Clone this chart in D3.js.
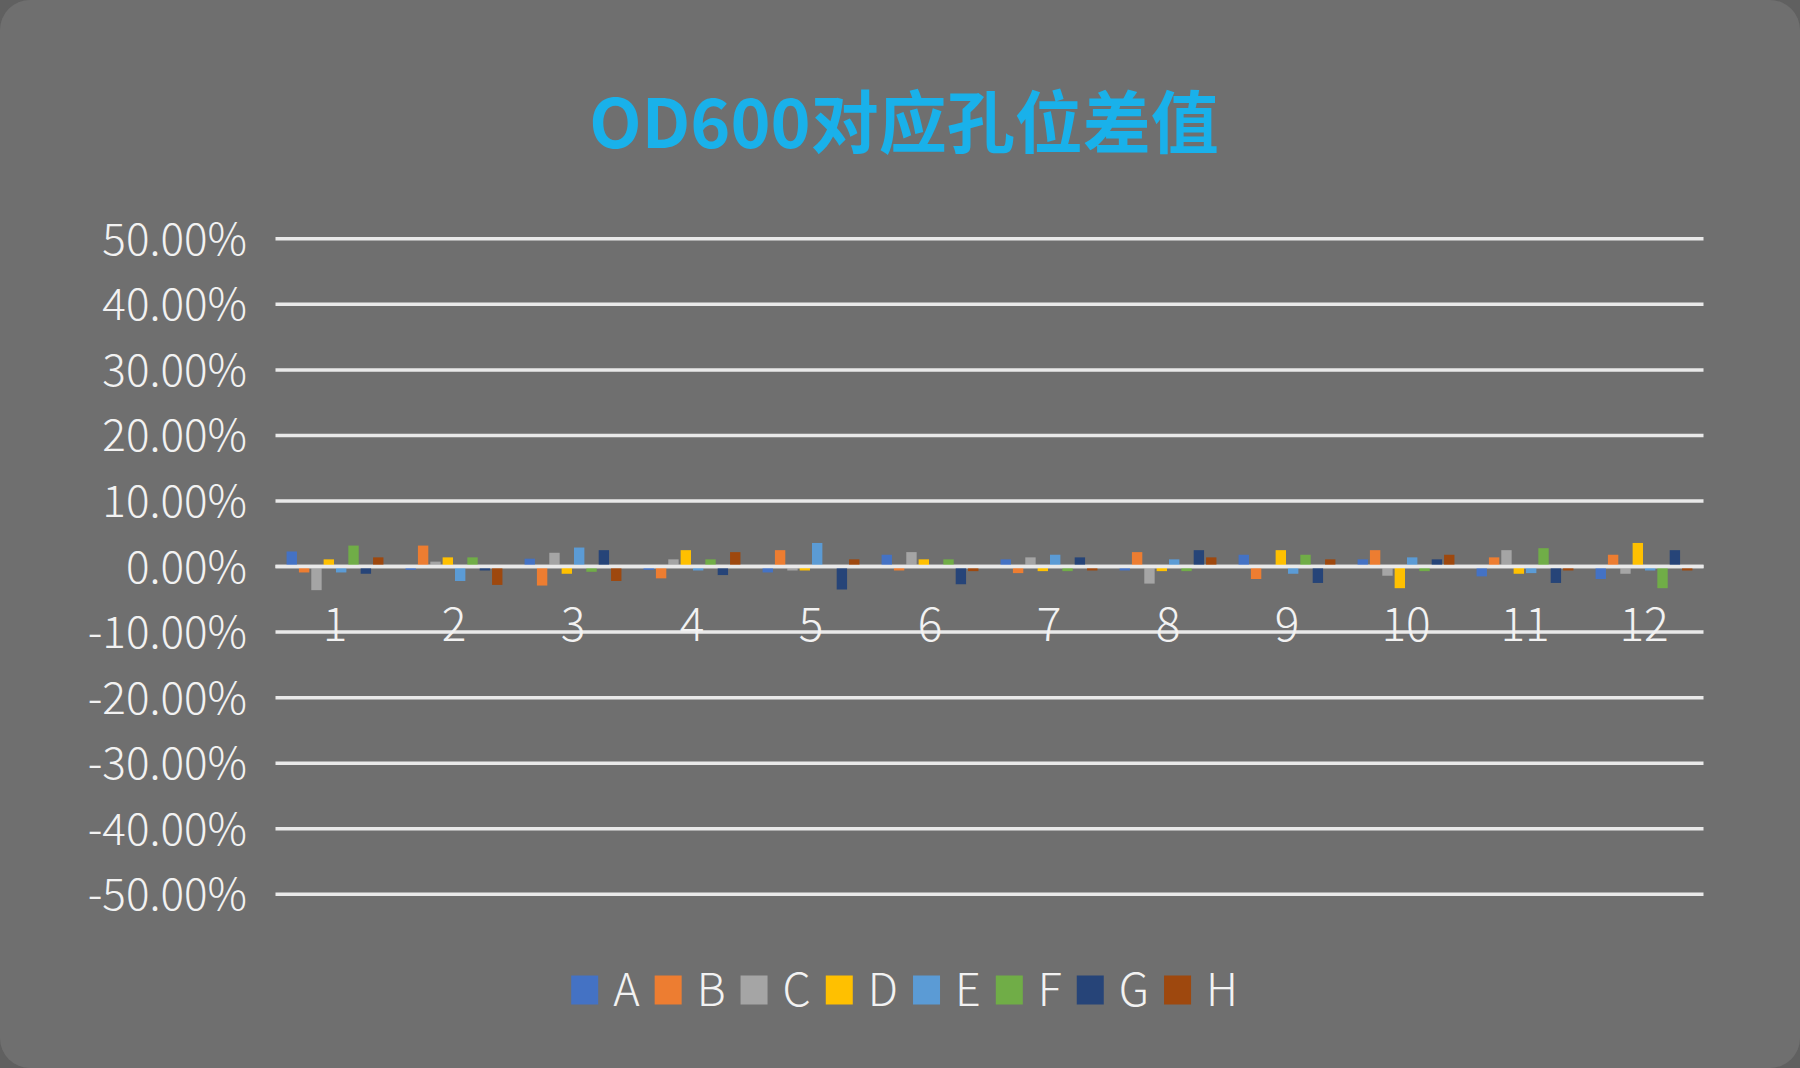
<!DOCTYPE html>
<html>
<head>
<meta charset="utf-8">
<script src="https://cdn.jsdelivr.net/npm/d3@7"></script>
<style>
  html, body { margin: 0; padding: 0; background: #606060; }
  svg { display: block; }
</style>
</head>
<body>
<svg id="chart" width="1800" height="1068"></svg>
<script>
const title = "OD600对应孔位差值";
const categories = ["1","2","3","4","5","6","7","8","9","10","11","12"];
const seriesNames = ["A","B","C","D","E","F","G","H"];
const seriesColors = ["#4472C4","#ED7D31","#A5A5A5","#FFC000","#5B9BD5","#70AD47","#264478","#9E480E"];
// values in percent
const A = [2.3, -0.5, 1.2, -0.5, -0.9, 1.8, 1.1, -0.6, 1.8, 1.1, -1.5, -1.9];
const B = [-0.9, 3.2, -2.9, -1.8, 2.5, -0.6, -1.0, 2.2, -1.9, 2.5, 1.4, 1.8];
const C = [-3.6, 0.75, 2.1, 1.1, -0.6, 2.2, 1.4, -2.6, 0.0, -1.4, 2.5, -1.1];
const D = [1.1, 1.4, -1.1, 2.5, -0.6, 1.1, -0.7, -0.7, 2.5, -3.3, -1.1, 3.6];
const E = [-0.9, -2.2, 2.9, -0.6, 3.6, 0.1, 1.8, 1.1, -1.1, 1.4, -1.0, -0.6];
const F = [3.2, 1.4, -0.8, 1.1, -0.2, 1.1, -0.7, -0.7, 1.8, -0.7, 2.8, -3.3];
const G = [-1.1, -0.6, 2.5, -1.3, -3.5, -2.7, 1.4, 2.5, -2.5, 1.1, -2.5, 2.5];
const H = [1.4, -2.8, -2.2, 2.2, 1.1, -0.7, -0.6, 1.4, 1.1, 1.8, -0.6, -0.6];
const seriesValues = [A, B, C, D, E, F, G, H];
const yTicks = [0.5, 0.4, 0.3, 0.2, 0.1, 0, -0.1, -0.2, -0.3, -0.4, -0.5];

const svg = d3.select("#chart");
const W = 1800, Hh = 1068;
const fontLat = "'Noto Sans CJK SC', 'Noto Sans', sans-serif";

svg.append("rect").attr("x", 0).attr("y", 0).attr("width", W).attr("height", Hh)
  .attr("rx", 30).attr("fill", "#6f6f6f");

const plot = { left: 275.5, right: 1703.5, top: 238.8, bottom: 894.3 };

const x0 = d3.scaleBand().domain(categories).range([plot.left, plot.right]).paddingInner(0).paddingOuter(0);
const bw = x0.bandwidth();
const x1 = d3.scaleBand().domain(seriesNames).range([bw * 0.093, bw * 0.907]).paddingInner(0.16).paddingOuter(0);
const y = d3.scaleLinear().domain([-0.5, 0.5]).range([plot.bottom, plot.top]);

// title
svg.append("text")
  .attr("x", 904).attr("y", 148)
  .attr("text-anchor", "middle")
  .attr("font-family", "'Noto Sans CJK SC', sans-serif")
  .attr("font-weight", 700)
  .attr("font-size", 68)
  .attr("fill", "#19b1ea")
  .text(title);

// gridlines
svg.append("g").selectAll("line").data(yTicks).join("line")
  .attr("x1", plot.left).attr("x2", plot.right)
  .attr("y1", d => y(d)).attr("y2", d => y(d))
  .attr("stroke", "#e9e9e9").attr("stroke-width", 3.5);

// y axis labels
const fmt = v => d3.format(".2%")(v).replace("\u2212", "-");
svg.append("g").selectAll("text").data(yTicks).join("text")
  .attr("x", 247).attr("y", d => y(d) + 16)
  .attr("text-anchor", "end")
  .attr("font-family", fontLat)
  .attr("font-weight", 300)
  .attr("font-size", 44)
  .attr("fill", "#f2f2f2")
  .text(d => fmt(d));

// bars
const groups = svg.append("g").selectAll("g").data(categories).join("g")
  .attr("transform", d => `translate(${x0(d)},0)`);
groups.selectAll("rect")
  .data((c, ci) => seriesNames.map((s, si) => ({ s, si, v: seriesValues[si][ci] / 100 })))
  .join("rect")
  .attr("x", d => x1(d.s))
  .attr("width", x1.bandwidth())
  .attr("y", d => Math.min(y(d.v), y(0)))
  .attr("height", d => Math.abs(y(d.v) - y(0)))
  .attr("fill", d => seriesColors[d.si]);

// zero axis line on top
svg.append("line")
  .attr("x1", plot.left).attr("x2", plot.right)
  .attr("y1", y(0)).attr("y2", y(0))
  .attr("stroke", "#e9e9e9").attr("stroke-width", 3.5);

// category labels
svg.append("g").selectAll("text").data(categories).join("text")
  .attr("x", d => x0(d) + bw / 2).attr("y", 641)
  .attr("text-anchor", "middle")
  .attr("font-family", fontLat)
  .attr("font-weight", 300)
  .attr("font-size", 46)
  .attr("fill", "#f2f2f2")
  .text(d => d);

// legend
const legend = svg.append("g");
const swW = 27, swH = 29, gap1 = 15, gap2 = 15;
let cx = 0;
seriesNames.forEach((s, i) => {
  legend.append("rect").attr("x", cx).attr("y", -swH / 2).attr("width", swW).attr("height", swH)
    .attr("fill", seriesColors[i]);
  const t = legend.append("text").attr("x", cx + swW + gap1).attr("y", 16)
    .attr("font-family", fontLat).attr("font-weight", 300).attr("font-size", 45)
    .attr("fill", "#f2f2f2").text(s);
  cx += swW + gap1 + t.node().getComputedTextLength() + gap2;
});
const totalW = cx - gap2;
legend.attr("transform", `translate(${904.6 - totalW / 2},990)`);
</script>
</body>
</html>
